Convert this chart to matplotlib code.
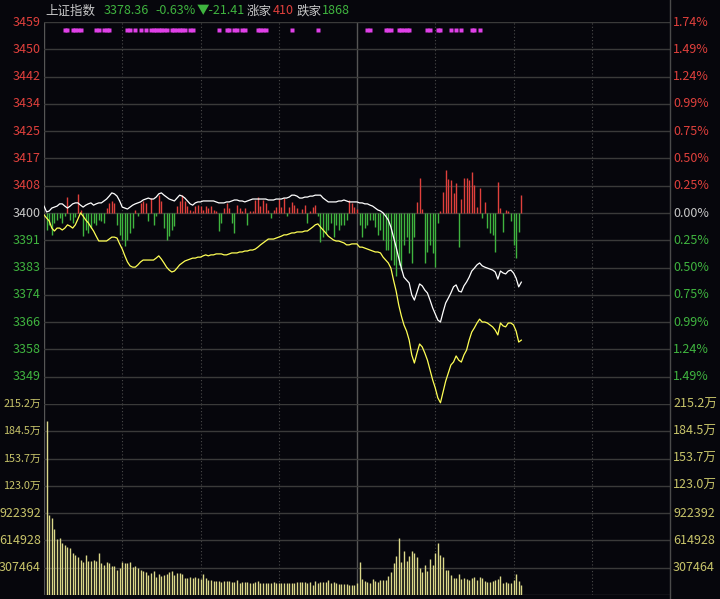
import numpy as np
import matplotlib.pyplot as plt
from matplotlib.lines import Line2D

plt.rcParams['font.family'] = ['Noto Sans CJK SC', 'DejaVu Sans']

# ---- data (上证指数 intraday, 1-minute) ----
prev_close = 3399.77
max_pct = 1.74          # axis range +/- percent
vol_step = 307464       # volume grid step
up_count, down_count = 410, 1868

# white line: index price, minutes 0..183
white = [
    3401.9, 3400.1, 3400.4, 3401.3, 3401.6, 3401.9, 3402.6, 3402.6, 3401.9, 3401.3,
    3401.9, 3402.6, 3402.9, 3402.9, 3402.2, 3401.6, 3402.2, 3402.6, 3402.9, 3402.2,
    3402.6, 3402.9, 3402.9, 3403.5, 3404.1, 3405.0, 3406.0, 3405.7, 3405.0, 3403.5,
    3401.6, 3401.3, 3401.0, 3401.6, 3402.2, 3402.6, 3402.9, 3403.2, 3403.8, 3404.1,
    3404.4, 3404.1, 3404.1, 3404.7, 3405.7, 3406.0, 3405.3, 3404.7, 3404.1, 3403.8,
    3403.5, 3404.4, 3405.3, 3405.0, 3404.4, 3403.5, 3402.6, 3402.2, 3402.9, 3403.2,
    3403.2, 3403.5, 3403.5, 3403.5, 3403.5, 3403.5, 3403.2, 3402.9, 3402.9, 3402.9,
    3403.2, 3403.2, 3403.5, 3403.8, 3403.8, 3403.5, 3403.5, 3403.2, 3403.5, 3403.8,
    3404.1, 3404.1, 3404.1, 3404.1, 3404.1, 3404.1, 3403.8, 3403.8, 3403.8, 3404.1,
    3404.1, 3404.1, 3404.4, 3404.4, 3404.7, 3405.3, 3405.3, 3405.0, 3404.4, 3404.4,
    3404.7, 3404.7, 3405.0, 3405.0, 3405.3, 3405.3, 3405.3, 3404.4, 3403.8, 3403.2,
    3403.2, 3403.2, 3403.2, 3403.5, 3403.5, 3403.8, 3403.5, 3403.2, 3403.2, 3403.2,
    3403.2, 3402.9, 3402.9, 3402.6, 3402.6, 3402.2, 3401.9, 3401.3, 3400.7, 3400.4,
    3399.8, 3398.8, 3397.6, 3395.4, 3392.3, 3389.2, 3385.8, 3382.7, 3379.9, 3379.0,
    3378.1, 3374.4, 3372.8, 3375.3, 3377.8, 3377.2, 3375.9, 3375.0, 3372.8, 3370.4,
    3368.5, 3366.6, 3366.0, 3369.1, 3371.9, 3373.4, 3375.0, 3376.9, 3377.5, 3375.6,
    3375.3, 3377.2, 3378.4, 3379.9, 3381.8, 3382.7, 3383.7, 3384.3, 3383.4, 3383.0,
    3382.7, 3382.4, 3382.1, 3381.5, 3379.3, 3381.8, 3381.2, 3380.9, 3381.8, 3382.1,
    3381.2, 3379.6, 3376.9, 3378.36]

# yellow line, minutes 0..183
yellow = [
    3399.2, 3398.2, 3397.3, 3395.1, 3394.2, 3395.1, 3395.1, 3394.5, 3395.1, 3396.1,
    3395.7, 3395.1, 3396.1, 3397.9, 3399.8, 3398.8, 3397.6, 3396.7, 3395.4, 3394.2,
    3392.6, 3391.1, 3391.1, 3391.1, 3391.1, 3391.7, 3392.3, 3392.3, 3392.0, 3390.2,
    3388.6, 3386.5, 3384.6, 3383.4, 3383.0, 3383.0, 3383.7, 3384.6, 3385.2, 3385.2,
    3385.2, 3385.2, 3385.2, 3385.8, 3386.5, 3385.5, 3384.3, 3383.0, 3382.1, 3381.5,
    3381.8, 3382.7, 3383.7, 3384.3, 3384.9, 3385.2, 3385.5, 3385.8, 3385.8, 3386.1,
    3386.1, 3386.5, 3386.8, 3386.5, 3386.8, 3386.8, 3387.1, 3387.1, 3387.1, 3386.8,
    3386.8, 3387.1, 3387.4, 3387.4, 3387.4, 3387.7, 3387.7, 3388.0, 3388.0, 3388.3,
    3388.3, 3388.6, 3389.2, 3389.9, 3390.5, 3391.1, 3391.7, 3391.7, 3391.7, 3392.0,
    3392.3, 3392.6, 3393.0, 3393.0, 3393.3, 3393.6, 3393.6, 3393.9, 3393.9, 3393.9,
    3394.2, 3394.2, 3394.8, 3395.4, 3396.1, 3396.4, 3395.4, 3394.5, 3393.6, 3392.6,
    3392.0, 3391.4, 3391.1, 3391.1, 3390.8, 3390.5, 3389.9, 3389.9, 3390.2, 3390.2,
    3390.2, 3389.2, 3389.2, 3388.9, 3388.6, 3388.3, 3388.0, 3387.7, 3387.7, 3387.4,
    3386.1, 3385.2, 3384.3, 3382.7, 3379.0, 3375.6, 3371.3, 3367.9, 3365.1, 3363.2,
    3360.4, 3355.8, 3353.3, 3356.4, 3359.2, 3358.3, 3356.4, 3354.2, 3351.2, 3348.1,
    3345.6, 3342.5, 3341.0, 3344.3, 3347.7, 3350.2, 3352.7, 3353.6, 3355.5, 3354.2,
    3353.6, 3355.8, 3357.3, 3360.4, 3362.9, 3364.2, 3365.7, 3366.9, 3366.0, 3366.0,
    3365.7, 3365.1, 3364.5, 3363.5, 3362.0, 3365.7, 3364.8, 3364.5, 3365.7, 3365.7,
    3365.1, 3363.2, 3359.8, 3360.4]

# red/green force bars, minutes 1..183 (positive = red)
force = [
    -17, -12, -22, -10, -7, -5, -10, -3, 16,
    -7, -10, -4, 19, 3, -23, -17, -20, -15, -10,
    -12, -7, -8, -10, 5, 10, 12, 10, -12, -22,
    -27, -33, -27, -20, -15, 3, -3, 10, 12, 10,
    -8, 15, -12, -3, 18, 12, -15, -27, -23, -17,
    -13, 7, 12, 18, 12, 7, 3, 2, 7, 8,
    7, 3, 7, 5, 7, 3, 2, -18, -10, 5,
    10, 5, -10, -20, 8, 5, 2, 5, -12, 2,
    2, 13, 16, 7, 13, 10, 3, -5, 3, 6,
    14, 6, 15, -3, 6, 11, 8, 5, 0, 4,
    8, -10, 2, 6, 8, -3, -29, -24, -20, -17,
    -10, -24, -12, -17, -12, -12, -7, 13, 10, 6,
    4, -12, -24, -15, -12, -7, -7, -14, -22, -17,
    -27, -37, -37, -47, -52, -63, -52, -57, -32, -24,
    -40, -50, -24, 11, 35, 4, -50, -39, -32, -40,
    -54, -10, 2, 21, 43, 34, 33, 20, 30, -34,
    14, 35, 35, 33, 41, 28, 6, 25, -5, 11,
    -15, -20, -22, -39, 31, 5, -19, 3, 2, -8,
    -32, -45, -19, 18]
force_scale = 0.31

# volume, minutes 1..183
volume = [
    1964000, 900000, 870000, 740000, 630000, 640000, 585000, 560000, 540000, 530000,
    470000, 450000, 430000, 390000, 370000, 450000, 380000, 380000, 390000, 380000,
    470000, 360000, 340000, 370000, 360000, 330000, 330000, 280000, 300000, 370000,
    360000, 360000, 370000, 320000, 330000, 300000, 280000, 270000, 260000, 225000,
    250000, 270000, 200000, 240000, 210000, 225000, 240000,
    263000, 274000, 225000, 244000, 244000, 233000, 195000, 195000, 206000, 195000,
    199000, 188000, 177000, 233000, 188000, 169000, 169000, 158000, 158000, 161000,
    150000, 158000, 158000, 158000, 150000, 150000, 169000, 131000, 150000, 150000,
    150000, 139000, 139000, 150000, 158000, 139000, 131000, 131000, 139000, 139000,
    150000, 139000, 139000, 139000, 139000, 131000, 131000, 139000, 131000, 150000,
    150000, 150000, 150000, 139000, 150000, 113000, 161000, 131000, 150000, 150000,
    143000, 169000, 131000, 150000, 131000, 124000, 124000, 124000, 124000, 113000,
    113000, 113000, 139000,
    375000,
    177000, 161000, 150000, 139000, 180000, 161000, 150000, 169000, 169000, 169000,
    218000, 263000, 357000, 440000, 646000, 375000, 496000, 387000, 443000, 496000,
    470000, 432000, 308000, 263000, 338000, 270000, 402000, 338000, 477000, 590000,
    451000, 432000, 282000, 282000, 225000, 195000, 188000, 237000, 177000, 188000,
    177000, 169000, 188000, 199000, 169000, 199000, 188000, 158000, 150000, 150000,
    158000, 169000, 177000, 214000, 139000, 150000, 131000, 131000, 169000, 237000,
    158000, 113000]

# minutes carrying the magenta markers on the top row
marker_minutes = [8, 9, 11, 12, 13, 14, 20, 21, 23, 24, 25, 32, 33, 35, 37, 39,
                  41, 42, 43, 44, 45, 46, 47, 49, 50, 51, 52, 53, 54, 56, 57,
                  67, 70, 71, 73, 74, 76, 77, 82, 83, 84, 85, 95, 105, 124, 125,
                  131, 132, 133, 136, 137, 138, 139, 140, 147, 148, 151, 152,
                  156, 158, 160, 164, 165, 167]

# ---- colours ----
BG = '#06060c'
GRID = '#3a3a3a'
RED = '#e0403c'
GREEN = '#3fb43f'
GRAY_TXT = '#c8c8c8'
VOL_TXT = '#c8c46a'

W, H = 720, 599
fig = plt.figure(figsize=(W / 100, H / 100), dpi=100, facecolor=BG)


def box(x0, y0, x1, y1):
    return [x0 / W, 1 - y1 / H, (x1 - x0) / W, (y1 - y0) / H]


ax = fig.add_axes(box(44, 22, 670, 404))
axv = fig.add_axes(box(44, 404, 670, 595))
for a in (ax, axv):
    a.set_facecolor(BG)
    a.set_xlim(0, 240)
    a.set_xticks([])
    a.set_yticks([])
    for s in a.spines.values():
        s.set_visible(False)
    for m in (30, 60, 90, 150, 180, 210):
        a.axvline(m, color='#4a4a4a', lw=0.8, ls=(0, (1, 2)))
    a.axvline(120, color='#555555', lw=1)
    a.axvline(0, color='#555555', lw=1)

# ---- price panel ----
step = max_pct / 7 / 100
ax.set_ylim(prev_close * (1 - 7 * step), prev_close * (1 + 7 * step))
ytr = ax.get_yaxis_transform()
for k in range(-6, 8):
    lvl = prev_close * (1 + k * step)
    ax.axhline(lvl, color=GRID, lw=1)
    col = RED if k > 0 else (GREEN if k < 0 else GRAY_TXT)
    ax.text(-0.006, lvl, f"{round(lvl)}", color=col, fontsize=9,
            ha='right', va='center', transform=ytr)
    ax.text(1.005, lvl, f"{abs(k) * max_pct / 7:.2f}%", color=col, fontsize=9,
            ha='left', va='center', transform=ytr)

fm = np.arange(1, len(force) + 1)
fv = np.array(force) * force_scale
ax.vlines(fm[fv > 0], prev_close, prev_close + fv[fv > 0], color=RED, lw=1)
ax.vlines(fm[fv < 0], prev_close, prev_close + fv[fv < 0], color=GREEN, lw=1)

t = np.arange(len(white))
ax.plot(t, yellow, color='#ffff55', lw=0.9)
ax.plot(t, white, color='white', lw=0.9)

ax.plot(marker_minutes, [0.979] * len(marker_minutes), 's', ms=2.3,
        color='#e040e8', mec='none', transform=ax.get_xaxis_transform())

# ---- volume panel ----
axv.set_ylim(0, 7 * vol_step)
vtr = axv.get_yaxis_transform()
axv.axhline(0, color=GRID, lw=1)
for k in range(1, 8):
    v = k * vol_step
    axv.axhline(v, color=GRID, lw=1)
    if v >= 1e6:
        lab, fs_left = f"{v / 1e4:.1f}万", 7.8
    else:
        lab, fs_left = f"{v}", 9
    axv.text(-0.005, v, lab, color=VOL_TXT, fontsize=fs_left, ha='right',
             va='center', transform=vtr)
    axv.text(1.005, v, lab, color=VOL_TXT, fontsize=9, ha='left',
             va='center', transform=vtr)
vm = np.arange(1, len(volume) + 1)
axv.vlines(vm, 0, volume, color='#dcd88a', lw=1)

# right border line, full height
fig.add_artist(Line2D([670 / W, 670 / W], [0, 1], color='#4a4a4a', lw=1,
                      transform=fig.transFigure))

# ---- header ----
last = white[-1]
chg = last - prev_close
pct = chg / prev_close * 100
hy = 1 - 11 / H
header = [
    (45, "上证指数", GRAY_TXT),
    (104, f"{last:.2f}", GREEN),
    (155, f"{pct:.2f}%", GREEN),
    (197, f"▼{chg:.2f}", GREEN),
    (247, "涨家", GRAY_TXT),
    (273, f"{up_count}", RED),
    (297, "跌家", GRAY_TXT),
    (322, f"{down_count}", GREEN),
]
for x, s, c in header:
    fig.text(x / W, hy, s, color=c, fontsize=9, ha='left', va='center')

fig.savefig('out.png', dpi=100, facecolor=BG)
